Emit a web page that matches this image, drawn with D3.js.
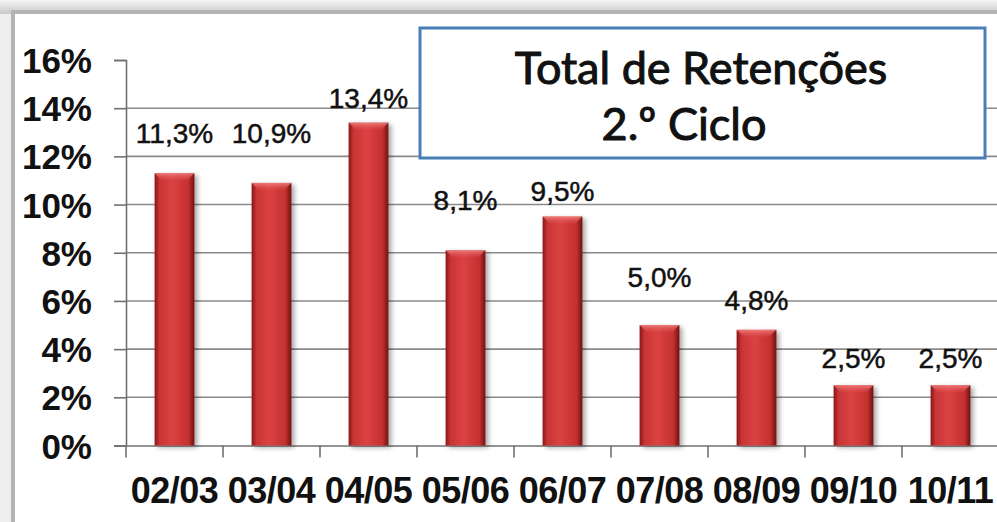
<!DOCTYPE html>
<meta charset="utf-8">
<head>
<title>Total de Retenções 2.º Ciclo</title>
<script src="https://d3js.org/d3.v7.min.js"></script>
<style>
  body { margin: 0; background: #fff; }
  svg { display: block; }
</style>
</head>
<body>
<div id="chart"></div>
<script>
  // dados
  var anos = ["02/03", "03/04", "04/05", "05/06", "06/07", "07/08", "08/09", "09/10", "10/11"];
  var retencoes = [11.3, 10.9, 13.4, 8.1, 9.5, 5.0, 4.8, 2.5, 2.5];
  var rotulos = ["11,3%", "10,9%", "13,4%", "8,1%", "9,5%", "5,0%", "4,8%", "2,5%", "2,5%"];
  var yTicks = [0, 2, 4, 6, 8, 10, 12, 14, 16];

  // quanto cada rótulo sobe acima da barra (px), como no original
  var labelLift = [30, 40, 15, 40, 16, 38, 20, 17, 17];

  var W = 997, H = 522;
  var plot = {left: 126, right: 999, top: 60, bottom: 445.5};

  var svg = d3.select("#chart").append("svg")
    .attr("width", W).attr("height", H);

  var defs = svg.append("defs");

  // gradiente das barras
  var g1 = defs.append("linearGradient").attr("id", "barGrad")
    .attr("x1", "0").attr("x2", "1").attr("y1", "0").attr("y2", "0");
  g1.append("stop").attr("offset", "0%").attr("stop-color", "#861616");
  g1.append("stop").attr("offset", "12%").attr("stop-color", "#c83434");
  g1.append("stop").attr("offset", "45%").attr("stop-color", "#dc4242");
  g1.append("stop").attr("offset", "85%").attr("stop-color", "#c43030");
  g1.append("stop").attr("offset", "100%").attr("stop-color", "#701010");

  var g2 = defs.append("linearGradient").attr("id", "capGrad")
    .attr("x1", "0").attr("x2", "0").attr("y1", "0").attr("y2", "1");
  g2.append("stop").attr("offset", "0%").attr("stop-color", "#f08080").attr("stop-opacity", 0.9);
  g2.append("stop").attr("offset", "100%").attr("stop-color", "#e05050").attr("stop-opacity", 0.2);

  var bg = defs.append("linearGradient").attr("id", "topShade")
    .attr("x1", "0").attr("x2", "0").attr("y1", "0").attr("y2", "1");
  bg.append("stop").attr("offset", "0%").attr("stop-color", "#f4f4f4");
  bg.append("stop").attr("offset", "100%").attr("stop-color", "#c8c8c8");

  var sh = defs.append("filter").attr("id", "shadow")
    .attr("x", "-30%").attr("y", "-10%").attr("width", "170%").attr("height", "130%");
  sh.append("feDropShadow").attr("dx", 3).attr("dy", 2).attr("stdDeviation", 2.5)
    .attr("flood-color", "#000").attr("flood-opacity", 0.35);

  // moldura
  svg.append("rect").attr("width", W).attr("height", H).attr("fill", "#efefef");
  svg.append("rect").attr("x", 0).attr("y", 0).attr("width", W).attr("height", 14)
    .attr("fill", "url(#topShade)");
  svg.append("rect").attr("x", 11).attr("y", 10).attr("width", W).attr("height", H)
    .attr("fill", "#b4b4b4");
  svg.append("rect").attr("x", 15).attr("y", 14).attr("width", W).attr("height", H)
    .attr("fill", "#ffffff");

  // escalas
  var x = d3.scaleBand()
    .domain(anos)
    .range([plot.left, plot.right])
    .paddingInner(0.59)
    .paddingOuter(0.295);
  var xb = d3.scaleBand().domain(anos).range([plot.left, plot.right]).padding(0);

  var y = d3.scaleLinear().domain([0, 16]).range([plot.bottom, plot.top]);

  // grelha
  svg.append("g")
    .selectAll("line")
    .data(yTicks.filter(function(t) { return t > 0 && t < 16; }))
    .enter().append("line")
      .attr("x1", plot.left).attr("x2", W)
      .attr("y1", function(d) { return y(d); })
      .attr("y2", function(d) { return y(d); })
      .attr("stroke", "#8a8a8a").attr("stroke-width", 1.6);

  // eixo Y
  var yAxis = svg.append("g")
    .attr("transform", "translate(" + plot.left + ",0)")
    .call(d3.axisLeft(y).tickValues(yTicks).tickSize(12).tickSizeOuter(12).tickFormat(function(d) { return d + "%"; }));
  yAxis.select(".domain").attr("stroke", "#707070").attr("stroke-width", 1.6);
  yAxis.selectAll(".tick line").attr("stroke", "#707070").attr("stroke-width", 1.6);
  yAxis.selectAll(".tick text")
    .attr("x", -34).attr("dy", "0.36em")
    .style("font-family", "'Liberation Sans', Arial, sans-serif")
    .style("font-weight", "bold").style("font-size", "35px").attr("fill", "#111");

  // eixo X
  var xAxis = svg.append("g")
    .attr("transform", "translate(0," + plot.bottom + ")")
    .call(d3.axisBottom(xb).tickSize(0).tickSizeOuter(0));
  xAxis.select(".domain").attr("stroke", "#707070").attr("stroke-width", 1.6);
  xAxis.selectAll(".tick text")
    .attr("y", 57).attr("dy", 0)
    .style("font-family", "'Liberation Sans', Arial, sans-serif")
    .style("font-weight", "bold").style("font-size", "36px")
    .style("letter-spacing", "-0.5px").attr("fill", "#111");

  // marcas entre categorias
  svg.append("g").selectAll("line")
    .data(anos.concat(["fim"]))
    .enter().append("line")
      .attr("x1", function(d, i) { return i < anos.length ? xb(d) : plot.right; })
      .attr("x2", function(d, i) { return i < anos.length ? xb(d) : plot.right; })
      .attr("y1", plot.bottom).attr("y2", plot.bottom + 12)
      .attr("stroke", "#707070").attr("stroke-width", 1.6);

  // barras
  var bars = svg.append("g").selectAll("g")
    .data(retencoes)
    .enter().append("g");

  bars.append("rect")
    .attr("x", function(d, i) { return x(anos[i]); })
    .attr("y", function(d) { return y(d); })
    .attr("width", x.bandwidth())
    .attr("height", function(d) { return plot.bottom - y(d); })
    .attr("fill", "url(#barGrad)")
    .attr("filter", "url(#shadow)");

  // bisel no topo
  bars.append("path")
    .attr("d", function(d, i) {
      var x0 = x(anos[i]), x1 = x0 + x.bandwidth(), t = y(d), b = 7;
      return "M" + x0 + "," + t + "L" + x1 + "," + t + "L" + (x1 - b) + "," + (t + b) +
             "L" + (x0 + b) + "," + (t + b) + "Z";
    })
    .attr("fill", "url(#capGrad)");

  // rótulos
  svg.append("g").selectAll("text")
    .data(retencoes)
    .enter().append("text")
      .attr("x", function(d, i) { return x(anos[i]) + x.bandwidth() / 2; })
      .attr("y", function(d, i) { return y(d) - labelLift[i]; })
      .attr("text-anchor", "middle")
      .style("font-family", "'Liberation Sans', Arial, sans-serif")
      .style("font-size", "28px")
      .attr("fill", "#111")
      .attr("stroke", "#111").attr("stroke-width", 0.5)
      .text(function(d, i) { return rotulos[i]; });

  // caixa de título
  svg.append("rect")
    .attr("x", 420).attr("y", 28).attr("width", 565).attr("height", 130)
    .attr("fill", "#fff").attr("stroke", "#4a7ebb").attr("stroke-width", 3);

  var title = svg.append("text")
    .attr("text-anchor", "middle")
    .style("font-family", "Lato, 'Open Sans', sans-serif")
    .style("font-size", "45px")
    .attr("fill", "#111")
    .attr("stroke", "#111").attr("stroke-width", 1);
  title.append("tspan").attr("x", 701).attr("y", 84).text("Total de Retenções");
  title.append("tspan").attr("x", 684).attr("y", 140).text("2.º Ciclo");
</script>
</body>
